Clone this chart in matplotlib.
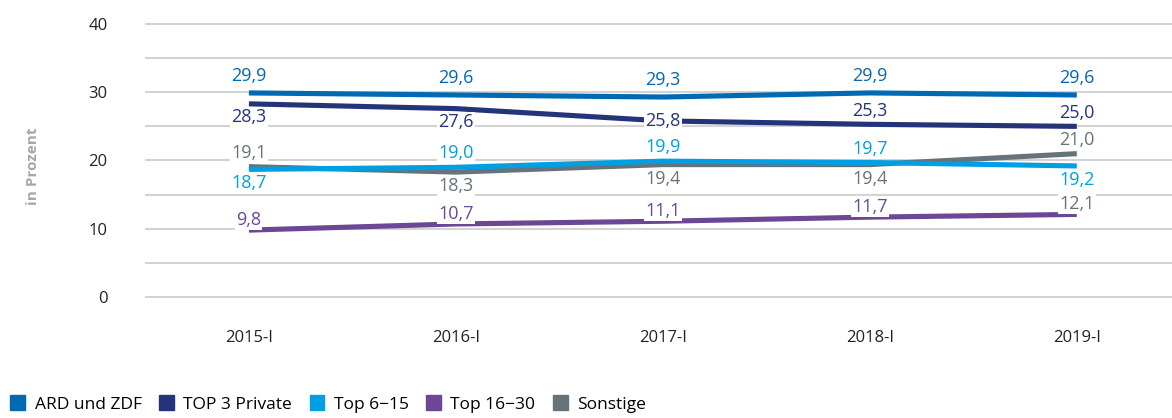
import matplotlib.pyplot as plt
from matplotlib.patches import Patch

periods = ["2015-I", "2016-I", "2017-I", "2018-I", "2019-I"]

ard_zdf = [29.9, 29.6, 29.3, 29.9, 29.6]
top3_private = [28.3, 27.6, 25.8, 25.3, 25.0]
top6_15 = [18.7, 19.0, 19.9, 19.7, 19.2]
top16_30 = [9.8, 10.7, 11.1, 11.7, 12.1]
sonstige = [19.1, 18.3, 19.4, 19.4, 21.0]

# label side per point: 1 above, -1 below, 0 on the line
pos_ard = [1, 1, 1, 1, 1]
pos_top3 = [-1, -1, 0, 1, 1]
pos_top6 = [-1, 1, 1, 1, -1]
pos_top16 = [1, 1, 1, 1, 1]
pos_sonst = [1, -1, -1, -1, 1]

c_ard = "#0069b4"
c_top3 = "#24347a"
c_top6 = "#009fe3"
c_top16 = "#6b4796"
c_sonst = "#67737a"

plt.rcParams['font.family'] = ['Open Sans', 'DejaVu Sans']

fig = plt.figure(figsize=(11.72, 4.18), dpi=100)
ax = fig.add_axes([145 / 1172, 0.2732, 1 - 145 / 1172, 0.6857])

x = list(range(len(periods)))

# name, values, line colour, label sides, label colours, label distance (px)
series = [
    ("Sonstige", sonstige, c_sonst, pos_sonst, None, 14),
    ("Top 6\u221215", top6_15, c_top6, pos_top6, None, 14),
    ("Top 16\u221230", top16_30, c_top16, pos_top16,
     [c_top16, c_top16, c_top16, c_top16, c_sonst], 10),
    ("TOP 3 Private", top3_private, c_top3, pos_top3, None, 13),
    ("ARD und ZDF", ard_zdf, c_ard, pos_ard, None, 17),
]

for name, vals, col, pos, lcols, dist in series:
    ax.plot(x, vals, color=col, lw=3.7, solid_capstyle='butt', zorder=3)

for name, vals, col, pos, lcols, dist in series:
    for i, v in enumerate(vals):
        tc = lcols[i] if lcols else col
        off = pos[i] * dist * 0.72
        ax.annotate(f"{v:.1f}".replace(".", ","), (i, v), xytext=(0, off),
                    textcoords='offset points', ha='center', va='center',
                    fontsize=13, color=tc, zorder=5,
                    bbox=dict(fc='white', ec='none', pad=0.8))

ax.set_xlim(-0.502, 4.46)
ax.set_ylim(-1, 41)
ax.set_yticks([0, 10, 20, 30, 40])
ax.set_yticks([5, 15, 25, 35], minor=True)
ax.grid(axis='y', which='both', color='#d3d3d3', lw=1.5, zorder=1)
ax.set_xticks(x)
ax.set_xticklabels(periods)
ax.tick_params(axis='both', which='both', length=0, labelsize=12, labelcolor='#222222')
ax.tick_params(axis='y', pad=27)
ax.tick_params(axis='x', pad=19)
for s in ax.spines.values():
    s.set_visible(False)

fig.text(33 / 1172, 1 - 166 / 418, "in Prozent", rotation=90, ha='center', va='center',
         fontsize=11, color='#a6a6a6', fontweight='bold')

handles = [Patch(color=c_ard, label="ARD und ZDF"),
           Patch(color=c_top3, label="TOP 3 Private"),
           Patch(color=c_top6, label="Top 6\u221215"),
           Patch(color=c_top16, label="Top 16\u221230"),
           Patch(color=c_sonst, label="Sonstige")]
fig.legend(handles=handles, loc='lower left', bbox_to_anchor=(0.0, -0.012), ncol=5,
           frameon=False, fontsize=12.5, handlelength=0.85, handleheight=1.0,
           handletextpad=0.55, columnspacing=1.0, borderaxespad=0.2)

fig.savefig("out.png", dpi=100)
